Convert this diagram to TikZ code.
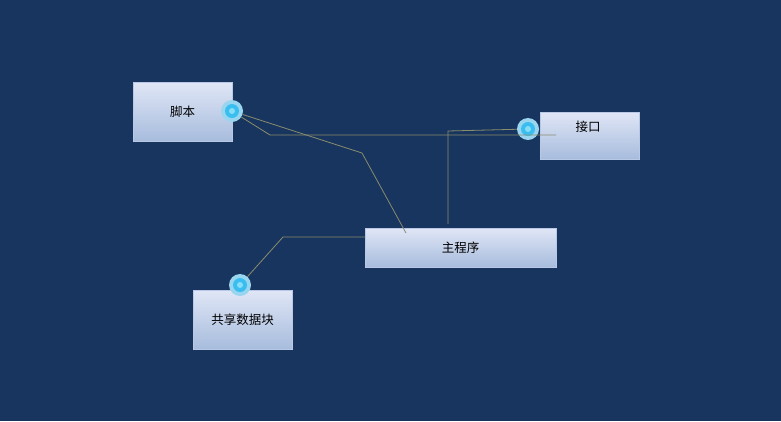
\documentclass[tikz,border=0pt]{standalone}
\usepackage{fontspec}
\newfontfamily\cjk{Noto Sans CJK SC}
\usetikzlibrary{positioning}
\definecolor{bgnavy}{HTML}{17355E}
\definecolor{boxtop}{HTML}{E0E6F6}
\definecolor{boxbot}{HTML}{A7BCDD}
\definecolor{boxline}{HTML}{B9C8E4}
\definecolor{wirecol}{HTML}{8A8C6E}
\definecolor{portout}{HTML}{9AD5F0}
\definecolor{portin}{HTML}{3ABEF0}
\definecolor{portdot}{HTML}{86DEF8}

\begin{document}
\begin{tikzpicture}[
  x=1pt, y=-1pt,
  font=\cjk\fontsize{12.5}{14}\selectfont,
  box/.style={draw=boxline, line width=0.6pt, rectangle, inner sep=0pt,
    top color=boxtop, bottom color=boxbot, text=black},
  txt/.style={inner sep=0pt, text=black},
  port/.style={circle, minimum size=22pt, inner sep=0pt, fill=portout,
    path picture={
      \fill[portin] (path picture bounding box.center) circle (7pt);
      \fill[portdot] (path picture bounding box.center) circle (3pt);
    }},
  wire/.style={draw=wirecol, line width=0.8pt}
]
\useasboundingbox (0,0) rectangle (781,421);
\fill[bgnavy] (0,0) rectangle (781,421);

% boxes
\node[box, minimum width=99pt, minimum height=59pt] (jb) at (182.5,111.5) {脚本};
\node[box, minimum width=99pt, minimum height=47pt] (jk) at (589.5,135.5) {};
\node[txt] (jk-t) at (588,127) {接口};
\node[box, minimum width=191pt, minimum height=39pt] (zcx) at (460.5,247.5) {主程序};
\node[box, minimum width=99pt, minimum height=59pt] (gx) at (242.5,319.5) {共享数据块};

% ports
\node[port] (jb-p) at (232,111) {};
\node[port] (jk-p) at (528,129) {};
\node[port] (gx-p) at (240,285) {};

% bends
\coordinate (b1) at (362,153);
\coordinate (b2) at (406,233);
\coordinate (b3) at (270,135);
\coordinate (b4) at (556,135);
\coordinate (b5) at (448,224);
\coordinate (b6) at (448,131);
\coordinate (b7) at (283,237);
\coordinate (b8) at (365,237);

% wires
\draw[wire] (jb-p.-18) -- (b1) -- (b2);
\draw[wire] (jb-p.-33) -- (b3) -- (b4);
\draw[wire] (b5) -- (b6) -- (jk-p);
\draw[wire] (b8) -- (b7) -- (gx-p);
\end{tikzpicture}
\end{document}
